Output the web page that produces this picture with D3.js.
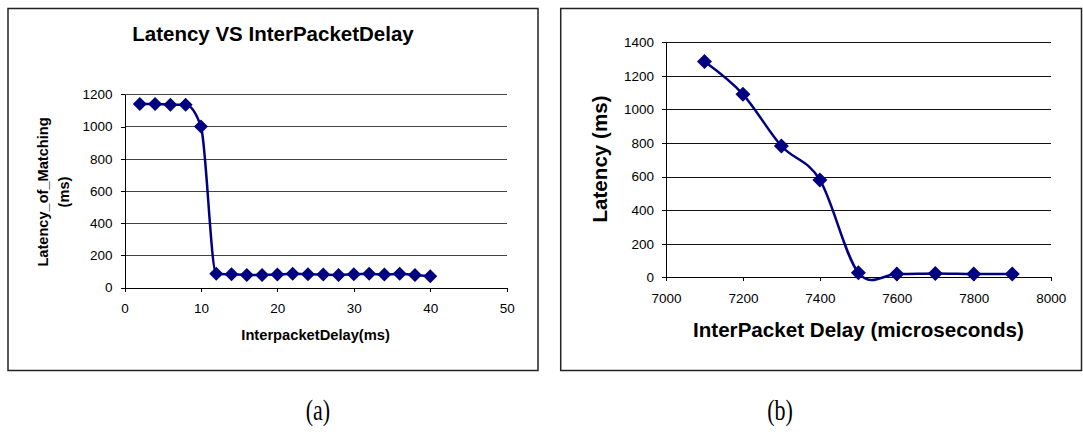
<!DOCTYPE html>
<html>
<head>
  <meta charset="UTF-8">
  <title>Latency vs InterPacket Delay</title>
  <script src="https://d3js.org/d3.v7.min.js"></script>
  <style>
    body { margin: 0; background: #ffffff; }
    svg { display: block; font-family: "Liberation Sans", Arial, sans-serif; }
    .frame { fill: none; stroke: #222; stroke-width: 1.5px; }
    .grid line { shape-rendering: crispEdges; }
    .axis path, .axis line { stroke: #000; shape-rendering: crispEdges; }
    .axis text { font-family: "Liberation Sans", Arial, sans-serif; font-size: 13.5px; fill: #000; }
    .series { fill: none; stroke: #000080; stroke-width: 2.5px; }
    .marker { fill: #000080; }
    .title { font-weight: bold; text-anchor: middle; fill: #000; }
    .caption { font-family: "Liberation Serif", "Times New Roman", serif; text-anchor: middle; fill: #000; }
  </style>
</head>
<body>
  <svg id="chart" width="1083" height="435"></svg>

  <script>
    // chart (a): latency of matching vs inter-packet delay (ms)
    const delayA = [2, 4, 6, 8, 10, 12, 14, 16, 18, 20, 22, 24, 26, 28, 30, 32, 34, 36, 38, 40];
    const latencyA = [1140, 1140, 1135, 1135, 1000, 85, 82, 78, 78, 80, 85, 82, 80, 78, 82, 85, 80, 85, 78, 70];
    const xTicksA = [0, 10, 20, 30, 40, 50];
    const yTicksA = [0, 200, 400, 600, 800, 1000, 1200];

    // chart (b): latency vs inter-packet delay (microseconds)
    const delayB = [7100, 7200, 7300, 7400, 7500, 7600, 7700, 7800, 7900];
    const latencyB = [1285, 1090, 782, 580, 27, 20, 23, 20, 20];
    const xTicksB = [7000, 7200, 7400, 7600, 7800, 8000];
    const yTicksB = [0, 200, 400, 600, 800, 1000, 1200, 1400];

    const svg = d3.select("#chart");

    function drawPanel(opt) {
      const g = svg.append("g");

      // outer frame of the panel
      g.append("rect").attr("class", "frame")
        .attr("x", opt.frame[0]).attr("y", opt.frame[1])
        .attr("width", opt.frame[2]).attr("height", opt.frame[3]);

      const x = d3.scaleLinear().domain(opt.xDomain).range([opt.left, opt.right]);
      const y = d3.scaleLinear().domain(opt.yDomain).range([opt.bottom, opt.top]);

      // horizontal gridlines
      g.append("g").attr("class", "grid")
        .selectAll("line")
        .data(opt.yTicks.filter(d => d > 0))
        .join("line")
          .attr("x1", opt.left).attr("x2", opt.right)
          .attr("y1", d => Math.round(y(d)) + 0.5).attr("y2", d => Math.round(y(d)) + 0.5)
          .attr("stroke", opt.gridColor);

      g.append("g").attr("class", "axis")
        .attr("transform", `translate(0,${opt.bottom})`)
        .call(d3.axisBottom(x).tickValues(opt.xTicks).tickSize(4).tickSizeOuter(0).tickPadding(12).tickFormat(d3.format("d")));

      g.append("g").attr("class", "axis")
        .attr("transform", `translate(${opt.left},0)`)
        .call(d3.axisLeft(y).tickValues(opt.yTicks).tickSize(4).tickSizeOuter(0).tickPadding(8).tickFormat(d3.format("d")));

      const pts = opt.xs.map((d, i) => [d, opt.ys[i]]);

      g.append("path").attr("class", "series")
        .attr("d", d3.line().x(d => x(d[0])).y(d => y(d[1])).curve(opt.curve)(pts));

      g.selectAll(".marker")
        .data(pts)
        .join("path")
          .attr("class", "marker")
          .attr("transform", d => `translate(${x(d[0])},${y(d[1])})`)
          .attr("d", `M0,${-opt.m}L${opt.m},0L0,${opt.m}L${-opt.m},0Z`);

      return {g, x, y};
    }

    // ---- panel (a)
    const a = drawPanel({
      frame: [8, 8.5, 530, 362],
      left: 124.5, right: 506.7, top: 94.3, bottom: 287.5,
      xDomain: [0, 50], yDomain: [0, 1200],
      xTicks: xTicksA, yTicks: yTicksA,
      xs: delayA, ys: latencyA,
      curve: d3.curveMonotoneX, m: 7, gridColor: "#444"
    });

    a.g.append("text").attr("class", "title")
      .attr("x", 273).attr("y", 41).style("font-size", "20.5px")
      .text("Latency VS InterPacketDelay");

    a.g.append("text").attr("class", "title")
      .attr("x", 315.6).attr("y", 340).style("font-size", "14.7px")
      .text("InterpacketDelay(ms)");

    const ytA = a.g.append("text").attr("class", "title")
      .attr("transform", "translate(48,192) rotate(-90)")
      .style("font-size", "14.6px");
    ytA.append("tspan").attr("x", 0).attr("y", 0).text("Latency_of_Matching");
    ytA.append("tspan").attr("x", 0).attr("y", 20.7).text("(ms)");

    // ---- panel (b)
    const b = drawPanel({
      frame: [560.7, 8.5, 520.8, 362],
      left: 666, right: 1050.7, top: 42.3, bottom: 277.3,
      xDomain: [7000, 8000], yDomain: [0, 1400],
      xTicks: xTicksB, yTicks: yTicksB,
      xs: delayB, ys: latencyB,
      curve: d3.curveCatmullRom.alpha(0), m: 7.5, gridColor: "#111"
    });

    b.g.append("text").attr("class", "title")
      .attr("x", 858.4).attr("y", 336.5).style("font-size", "20.6px")
      .text("InterPacket Delay (microseconds)");

    b.g.append("text").attr("class", "title")
      .attr("transform", "translate(607,159) rotate(-90)")
      .style("font-size", "20.6px")
      .text("Latency (ms)");

    // ---- captions under the panels
    const captions = ["(a)", "(b)"];
    const captionX = [318, 780];
    svg.selectAll(".caption")
      .data(captions)
      .join("text")
        .attr("class", "caption")
        .attr("transform", (d, i) => `translate(${captionX[i]},420) scale(1,1.3)`)
        .style("font-size", "22px")
        .text(d => d);
  </script>
</body>
</html>
